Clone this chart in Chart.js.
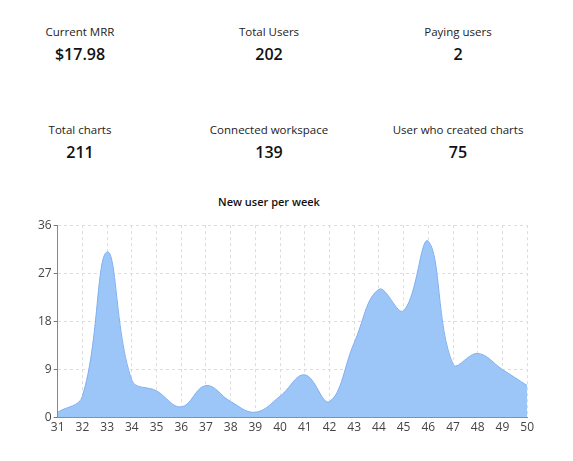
<!DOCTYPE html>
<html>
<head>
<meta charset="utf-8">
<script src="https://cdn.jsdelivr.net/npm/chart.js@4.4.0/dist/chart.umd.min.js"></script>
<style>
  body { margin: 0; background: #fff; font-family: 'Open Sans', 'Noto Sans', sans-serif; color: #111; }
  .stat { position: absolute; width: 180px; text-align: center; }
  .stat .lbl { font-size: 11.5px; color: #222; }
  .stat .val { font-size: 16px; font-weight: 600; margin-top: 4px; }
  #title { position: absolute; left: 169px; top: 194px; width: 200px; text-align: center; font-size: 11px; font-weight: 600; color: #111; }
  #wrap { position: absolute; left: 36px; top: 216px; width: 501px; height: 222px; }
</style>
</head>
<body>
<div id="stats"></div>
<div id="title">New user per week</div>
<div id="wrap"><canvas id="chart"></canvas></div>
<script>
// dashboard numbers
let statLabels = ['Current MRR', 'Total Users', 'Paying users', 'Total charts', 'Connected workspace', 'User who created charts'];
let statValues = ['$17.98', '202', '2', '211', '139', '75'];

// new users per week
let weeks = ['31', '32', '33', '34', '35', '36', '37', '38', '39', '40', '41', '42', '43', '44', '45', '46', '47', '48', '49', '50'];
let newUsers = [1, 4, 31, 7, 5, 2, 6, 3, 1, 4, 8, 3, 14, 24, 20, 33, 10, 12, 9, 6];

const statPos = [[-10, 24], [179, 24], [368, 24], [-10, 122], [179, 122], [368, 122]];
const stats = document.getElementById('stats');
for (let i = 0; i < statLabels.length; i++) {
  let d = document.createElement('div');
  d.className = 'stat';
  d.style.left = statPos[i][0] + 'px';
  d.style.top = statPos[i][1] + 'px';
  d.innerHTML = '<div class="lbl"></div><div class="val"></div>';
  d.children[0].textContent = statLabels[i];
  d.children[1].textContent = statValues[i];
  stats.appendChild(d);
}

Chart.defaults.font.family = "'Open Sans', 'Noto Sans', sans-serif";
Chart.defaults.color = '#444';

const ctx = document.getElementById('chart').getContext('2d');
new Chart(ctx, {
  type: 'line',
  data: {
    labels: weeks,
    datasets: [{
      label: 'New users',
      data: newUsers,
      fill: true,
      backgroundColor: 'rgba(157, 198, 248, 1)',
      borderColor: 'rgba(128, 176, 240, 1)',
      borderWidth: 1,
      pointRadius: 0,
      tension: 0.4
    }]
  },
  options: {
    responsive: true,
    maintainAspectRatio: false,
    animation: false,
    layout: { padding: { top: 2 } },
    plugins: {
      legend: { display: false },
      tooltip: { enabled: false }
    },
    scales: {
      x: {
        offset: false,
        grid: { color: '#ddd', tickLength: 0, drawTicks: false },
        border: { color: '#888', dash: [3, 3] },
        ticks: { padding: 3, font: { size: 12 }, color: '#444', maxRotation: 0, autoSkip: false }
      },
      y: {
        min: 0,
        max: 36,
        ticks: { stepSize: 9, font: { size: 12 }, color: '#444', padding: 2 },
        grid: { color: '#ddd', tickLength: 4, tickColor: '#777' },
        border: { color: '#888', dash: [3, 3] }
      }
    }
  }
});
</script>
</body>
</html>
